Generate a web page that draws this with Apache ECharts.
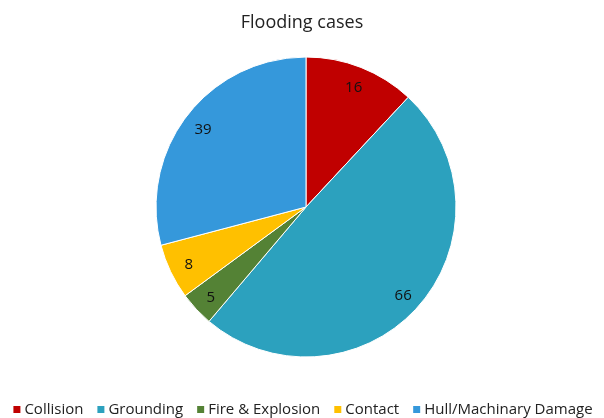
<!DOCTYPE html>
<html><head><meta charset="utf-8">
<script src="https://cdn.jsdelivr.net/npm/echarts@6/dist/echarts.min.js"></script>
<style>html,body{margin:0;padding:0;background:#fff}#c{width:604px;height:418px}</style>
</head><body><div id="c"></div>
<script>
const categories = ['Collision', 'Grounding', 'Fire & Explosion', 'Contact', 'Hull/Machinary Damage'];
const values = [16, 66, 5, 8, 39];
const colors = ['#C00000', '#2CA1BE', '#548235', '#FFC000', '#3598DB'];

const data = categories.map((n, i) => ({ name: n, value: values[i], itemStyle: { color: colors[i] } }));
const chart = echarts.init(document.getElementById('c'));
const font = '"Open Sans", sans-serif';
chart.setOption({
  animation: false,
  title: { text: 'Flooding cases', left: 'center', top: 9,
    textStyle: { fontFamily: font, fontSize: 18, fontWeight: 'normal', color: '#222' } },
  legend: { bottom: -4, left: 'center', itemWidth: 9, itemHeight: 9, itemGap: 12, icon: 'rect',
    data: categories,
    textStyle: { fontFamily: font, fontSize: 15, color: '#222', padding: [0, 0, 0, -2] } },
  series: [
    { type: 'pie', center: [306, 207], radius: [0, 150], startAngle: 90, clockwise: true,
      avoidLabelOverlap: false, label: { show: false }, labelLine: { show: false },
      itemStyle: { borderColor: '#fff', borderWidth: 1 }, emphasis: { disabled: true },
      data: data },
    { type: 'pie', center: [306, 209], radius: [104, 150], startAngle: 90, clockwise: true,
      silent: true, avoidLabelOverlap: false,
      label: { show: true, position: 'inside', formatter: '{c}', fontFamily: font, fontSize: 15, color: '#111' },
      labelLine: { show: false },
      itemStyle: { color: 'rgba(0,0,0,0)', borderWidth: 0 },
      emphasis: { disabled: true },
      data: categories.map((n, i) => ({ name: n, value: values[i] })) }
  ]
});
</script></body></html>
